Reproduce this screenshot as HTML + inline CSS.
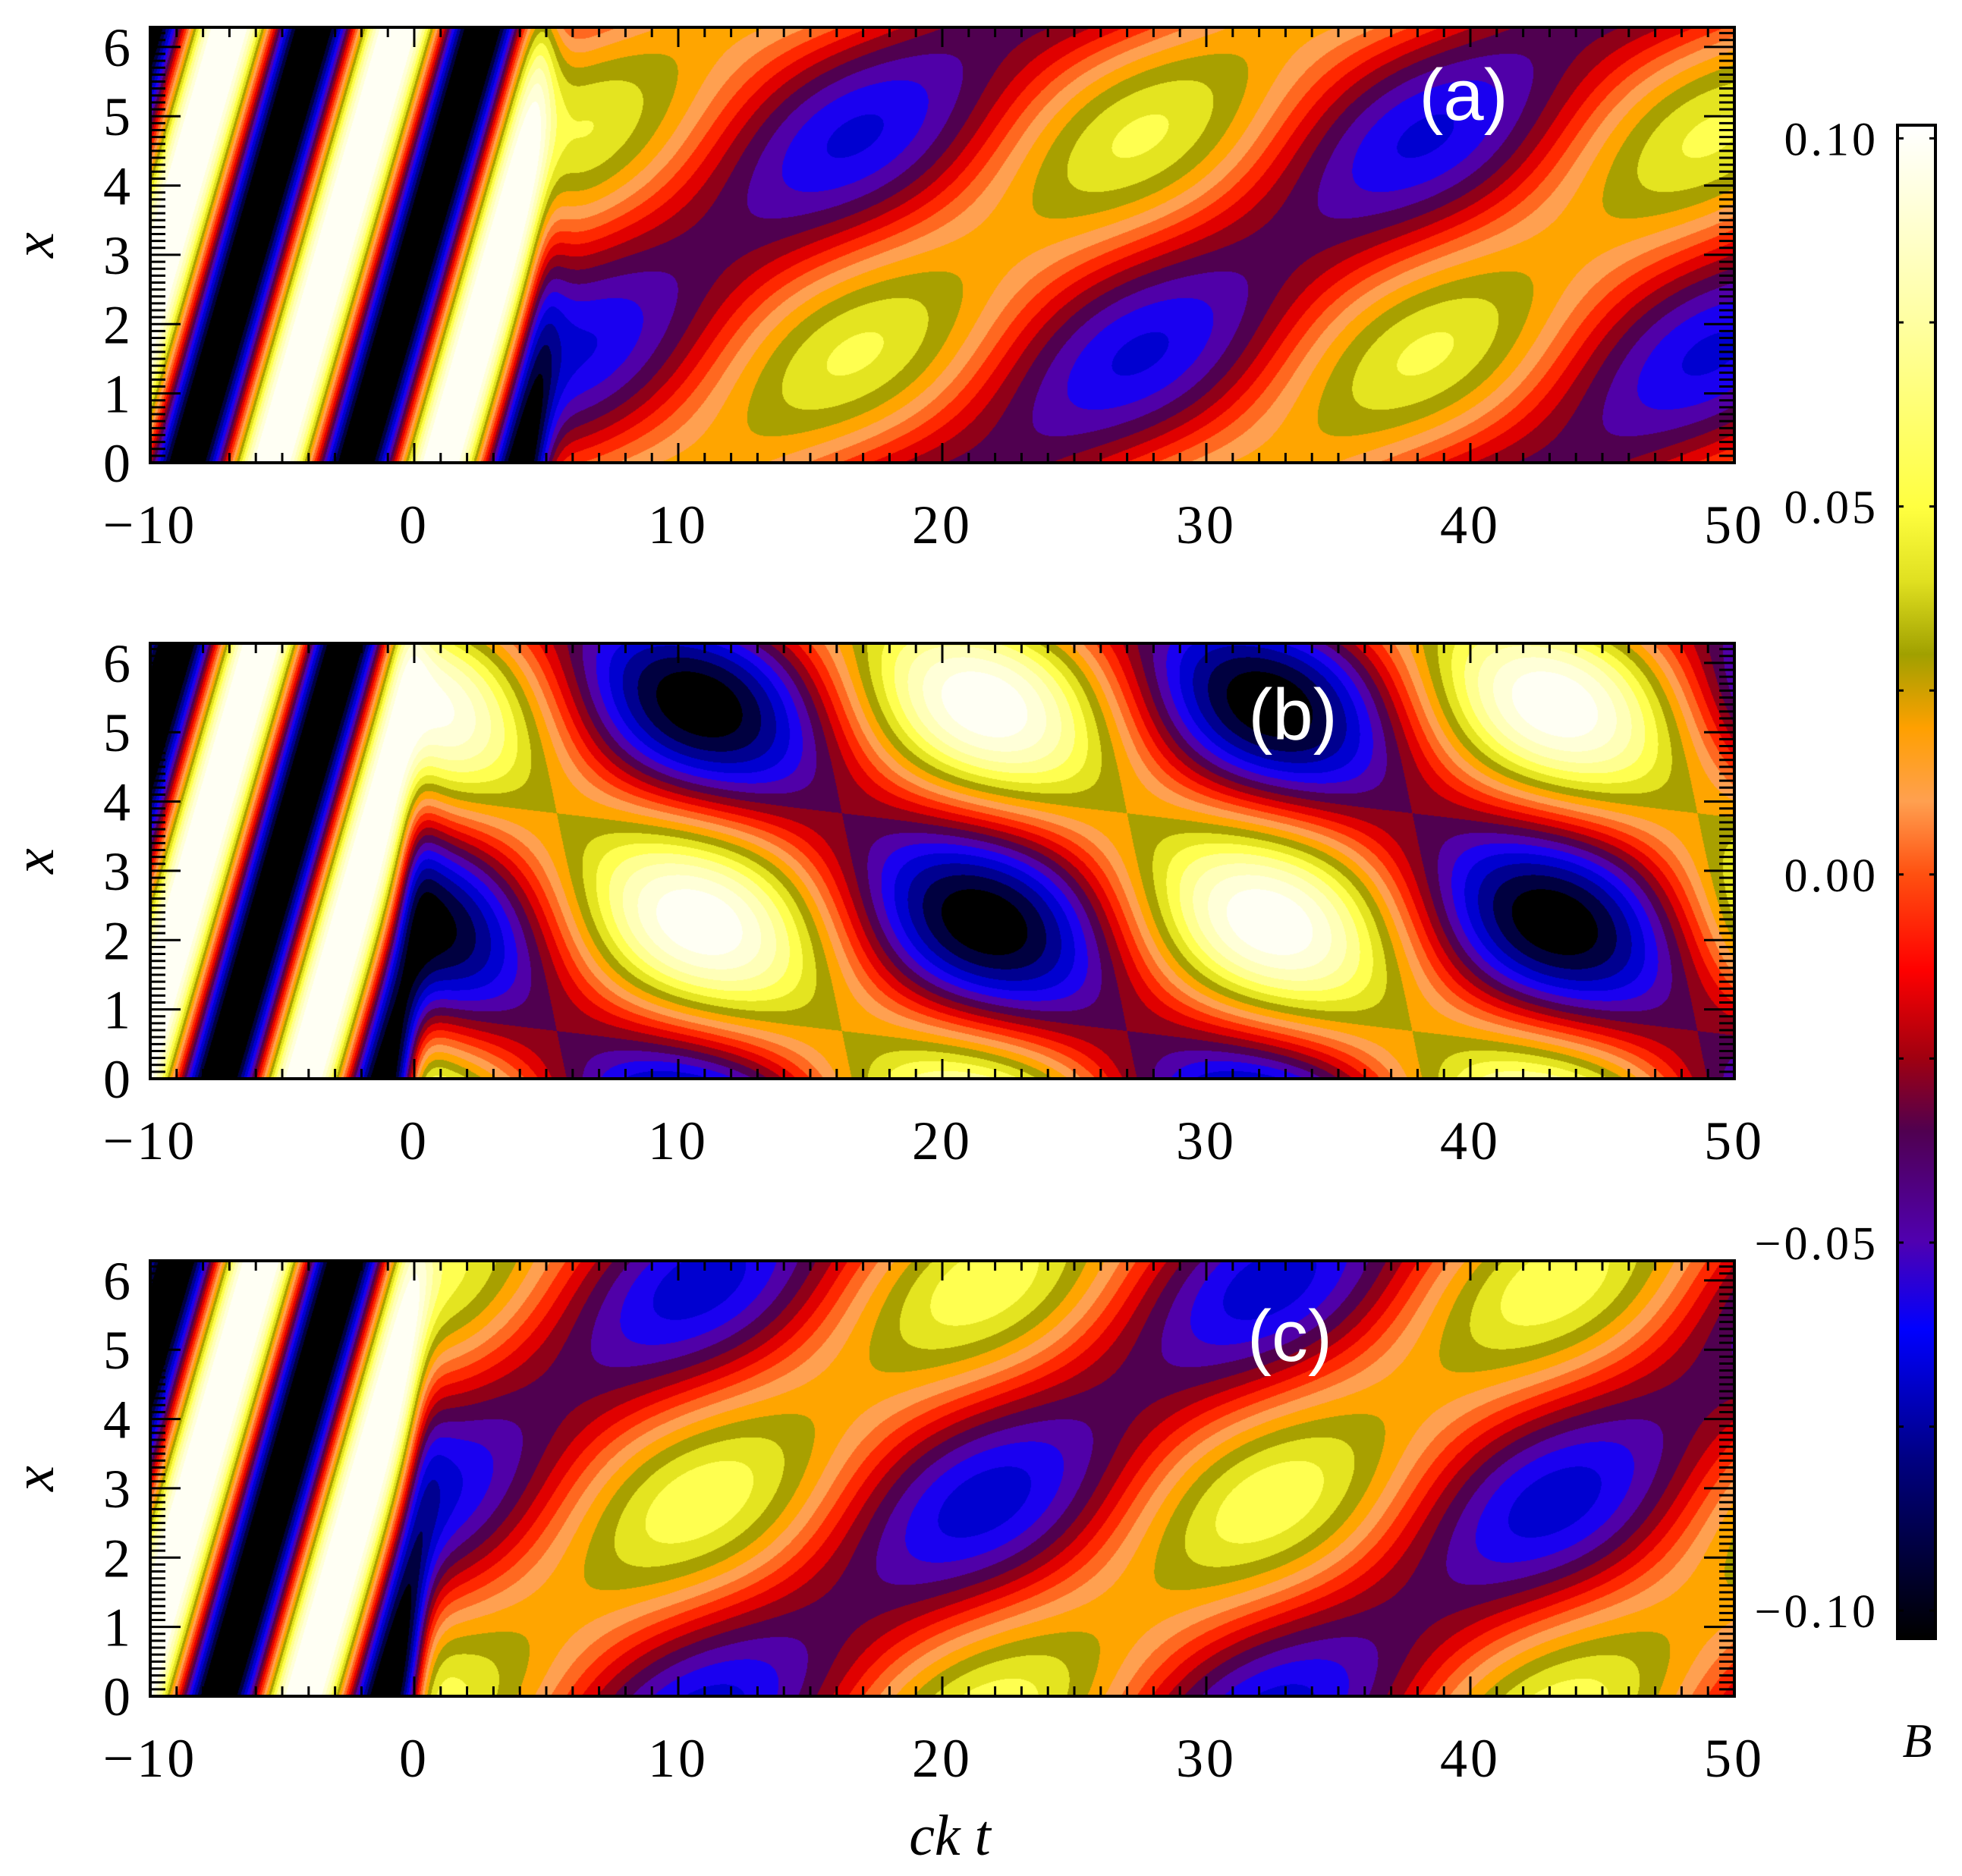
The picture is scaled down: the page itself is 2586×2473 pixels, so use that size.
<!DOCTYPE html>
<html><head><meta charset="utf-8"><style>
html,body{margin:0;padding:0;background:#fff;}
#root{position:relative;width:2586px;height:2473px;overflow:hidden;background:#fff;}
canvas{position:absolute;}
svg{position:absolute;left:0;top:0;}
text{font-family:"Liberation Serif",serif;fill:#000;}
</style></head><body>
<div id="root">
<canvas id="cA"></canvas>
<canvas id="cB"></canvas>
<canvas id="cC"></canvas>
<div id="cbar" style="position:absolute;left:2499px;top:163px;width:54px;height:1999px;box-sizing:border-box;border:4px solid #000;"></div>
<svg id="ov" width="2586" height="2473"></svg>
</div>
<script>
// ---- data ----
const panelNames = ["a","b","c"];
const panelTops = [36, 848, 1662];
const tRange = [-10, 50];
const xRange = [0, 2*Math.PI];
const xTickValues = [-10, 0, 10, 20, 30, 40, 50];
const xTickLabels = ["\u221210","0","10","20","30","40","50"];
const yTickValues = [0,1,2,3,4,5,6];
const cbTickValues = [0.10, 0.05, 0.00, -0.05, -0.10];
const cbTickLabels = ["0.10","0.05","0.00","\u22120.05","\u22120.10"];
// field parameters per panel
const period = [21.6, 21.6, 21.6];
const blobTime = [16.7, 0, 10.8];
const blobPhase = [0, 3.83, 1.23];
const ampMain = [0.057, 0.1, 0.062];
const ampQuad = [-0.03, 0.03, -0.03];
const meanOffset = [-0.005, 0, -0.004];
const boundaryTime = [5.0, 0.0, 0.3];
const stripeWhiteTime = [-5.4, -4.2, -4.2];
const stripePeriod = [6.4, 6.4, 6.4];
const stripeTilt = [0.75, 0.75, 0.75];
const stripeAmp = [0.115, 0.115, 0.115];
const levelStep = 0.01;
const palette = ["#000000","#000040","#000090","#0000d0","#1a00f0","#5000a8","#500050","#900018","#e00000","#ff2800","#ff6820","#ffa050","#ffa500","#a8a000","#e4e420","#ffff50","#ffff90","#ffffb8","#ffffd8","#fffff4"];

const PL = 198, PR = 2286, PH = 574, PW = PR - PL;
function sx(t){ return PL + (t - tRange[0]) / (tRange[1]-tRange[0]) * PW; }
function sy(top, x){ return top + PH - (x - xRange[0]) / (xRange[1]-xRange[0]) * PH; }

const pal = palette.map(h => [parseInt(h.slice(1,3),16), parseInt(h.slice(3,5),16), parseInt(h.slice(5,7),16)]);

function field(i, t, x){
  const th = 2*Math.PI/period[i]*(t - blobTime[i]);
  const R = meanOffset[i] + ampMain[i]*Math.sin(x - blobPhase[i])*Math.cos(th) + ampQuad[i]*Math.cos(x - blobPhase[i])*Math.sin(th);
  const S = stripeAmp[i]*Math.cos(2*Math.PI/stripePeriod[i]*(t - stripeWhiteTime[i]) - stripeTilt[i]*x);
  const w = 1/(1+Math.exp((t - boundaryTime[i])/0.35));
  return w*S + (1-w)*R;
}

["cA","cB","cC"].forEach((id, i) => {
  const c = document.getElementById(id);
  c.width = PW; c.height = PH;
  c.style.left = PL + "px"; c.style.top = panelTops[i] + "px";
  const ctx = c.getContext("2d");
  const img = ctx.createImageData(PW, PH);
  const d = img.data;
  for (let py = 0; py < PH; py++){
    const x = xRange[0] + (PH - py - 0.5)/PH*(xRange[1]-xRange[0]);
    for (let px = 0; px < PW; px++){
      const t = tRange[0] + (px + 0.5)/PW*(tRange[1]-tRange[0]);
      const B = field(i, t, x);
      let k = Math.floor((B + 0.1)/levelStep);
      if (k < 0) k = 0; if (k > 19) k = 19;
      const col = pal[k], o = (py*PW + px)*4;
      d[o]=col[0]; d[o+1]=col[1]; d[o+2]=col[2]; d[o+3]=255;
    }
  }
  ctx.putImageData(img, 0, 0);
});

// colorbar gradient
(function(){
  const stops = [[0.102,"#ffffff"],[0.075,"#ffffa0"],[0.05,"#ffff40"],[0.04,"#e0e020"],[0.03,"#a0a000"],[0.02,"#ffa000"],[0.01,"#ffa050"],[0.0,"#ff5010"],[-0.013,"#ff0000"],[-0.025,"#a00010"],[-0.035,"#500050"],[-0.05,"#5000b0"],[-0.062,"#0000ff"],[-0.08,"#000080"],[-0.104,"#000000"]];
  const g = stops.map(s => s[1] + " " + ((0.102 - s[0])/0.206*100).toFixed(2) + "%").join(",");
  document.getElementById("cbar").style.background = "linear-gradient(to bottom," + g + ")";
})();

const NS = "http://www.w3.org/2000/svg";
const ov = document.getElementById("ov");
function mk(tag, attrs, parent){
  const e = document.createElementNS(NS, tag);
  for (const k in attrs) e.setAttribute(k, attrs[k]);
  (parent||ov).appendChild(e); return e;
}
panelTops.forEach((top, i) => {
  const g = mk("g", {});
  
  
  let p = "";
  for (let t = tRange[0]; t <= tRange[1]; t++){
    const X = sx(t), L = (t % 10 === 0) ? 26 : 13;
    p += `M${X} ${top}v${L}M${X} ${top+PH}v${-L}`;
  }
  for (let k = 0; k <= 62; k++){
    const xv = k/10, Y = sy(top, xv), L = (k % 10 === 0) ? 40 : 20;
    p += `M${PL} ${Y}h${L}M${PR} ${Y}h${-L}`;
  }
  const ticks = mk("path", {d:p, stroke:"#000", "stroke-width":3, fill:"none"}, g);
  
  
  const fr = mk("rect", {x:PL, y:top, width:PW, height:PH, fill:"none", stroke:"#000", "stroke-width":4}, g);
  
  
  xTickValues.forEach((v, j) => {
    const tx = mk("text", {x:sx(v), y:top+PH+106, "font-size":72, "text-anchor":"middle", "letter-spacing":4}, g);
    tx.textContent = xTickLabels[j];
    
    
  });
  yTickValues.forEach(v => {
    const tx = mk("text", {x:172, y:sy(top, v)+25, "font-size":72, "text-anchor":"end"}, g);
    tx.textContent = String(v);
    
    
  });
  const yl = mk("text", {x:0, y:0, "font-size":76, "font-style":"italic", "text-anchor":"middle", transform:`translate(70 ${top+PH/2}) rotate(-90)`}, g);
  yl.textContent = "x";
  
  
});
const labelPos = [[1929,158],[1704,975],[1700,1794]];
panelNames.forEach((n, i) => {
  const tx = mk("text", {x:labelPos[i][0], y:labelPos[i][1], "font-size":96, "text-anchor":"middle", style:"font-family:'Liberation Sans',sans-serif;fill:#fff"});
  tx.textContent = "(" + n + ")";
  
  
});
const xt = mk("text", {x:1252, y:2445, "font-size":76, "font-style":"italic", "text-anchor":"middle", "xml:space":"preserve"});
xt.textContent = "ck  t";


function cby(v){ return 163 + (0.102 - v)/0.206*1999; }
let cp = "";
for (let v = 0.1; v > -0.1001; v -= 0.025){ const Y = cby(v); cp += `M2499 ${Y}h10M2553 ${Y}h-10`; }
const cbt = mk("path", {d:cp, stroke:"#000", "stroke-width":3});


cbTickValues.forEach((v, j) => {
  const tx = mk("text", {x:2476, y:cby(v)+22, "font-size":62, "text-anchor":"end", "letter-spacing":4});
  tx.textContent = cbTickLabels[j];
  
  
});
const bt = mk("text", {x:2527, y:2316, "font-size":64, "font-style":"italic", "text-anchor":"middle"});
bt.textContent = "B";


</script>
</body></html>
